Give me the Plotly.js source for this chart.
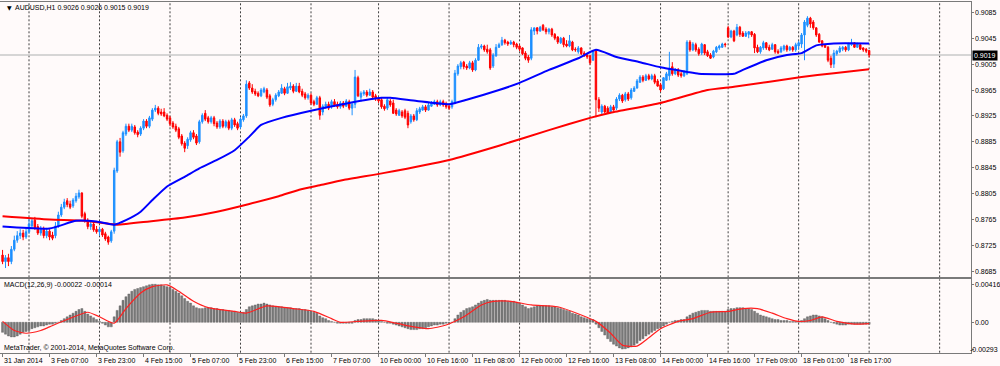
<!DOCTYPE html>
<html><head><meta charset="utf-8">
<script src="https://cdn.plot.ly/plotly-3.0.1.min.js"></script>
<style>html,body{margin:0;padding:0;background:#fffafa;}#chart{width:1000px;height:366px;}</style>
</head><body><div id="chart"></div>
<script>
// ---- AUDUSD H1 candles (bar index 0 = 31 Jan 2014 15:00) ----
const openP = [
0.8710,0.8700,0.8706,0.8700,0.8719,0.8733,0.8740,0.8744,0.8738,0.8746,
0.8755,0.8764,0.8754,0.8744,0.8750,0.8740,0.8747,0.8741,0.8740,0.8755,
0.8772,0.8784,0.8794,0.8789,0.8786,0.8794,0.8800,0.8806,0.8774,0.8764,
0.8754,0.8758,0.8750,0.8746,0.8750,0.8743,0.8738,0.8732,0.8747,0.8840,
0.8885,0.8871,0.8897,0.8909,0.8903,0.8908,0.8900,0.8897,0.8906,0.8917,
0.8909,0.8920,0.8934,0.8937,0.8931,0.8931,0.8926,0.8922,0.8914,0.8909,
0.8905,0.8894,0.8883,0.8879,0.8888,0.8899,0.8894,0.8885,0.8916,0.8929,
0.8922,0.8916,0.8922,0.8914,0.8908,0.8917,0.8909,0.8916,0.8906,0.8919,
0.8913,0.8908,0.8919,0.8925,0.8976,0.8968,0.8963,0.8960,0.8956,0.8962,
0.8965,0.8956,0.8943,0.8950,0.8956,0.8960,0.8967,0.8960,0.8968,0.8971,
0.8963,0.8971,0.8963,0.8959,0.8953,0.8957,0.8947,0.8943,0.8953,0.8931,
0.8939,0.8943,0.8939,0.8947,0.8943,0.8939,0.8945,0.8940,0.8947,0.8937,
0.8943,0.8984,0.8954,0.8959,0.8962,0.8957,0.8962,0.8956,0.8951,0.8950,
0.8940,0.8937,0.8948,0.8945,0.8934,0.8926,0.8931,0.8933,0.8929,0.8916,
0.8925,0.8919,0.8931,0.8934,0.8939,0.8934,0.8940,0.8943,0.8947,0.8942,
0.8947,0.8943,0.8940,0.8939,0.8945,0.8990,0.9001,0.9008,0.9002,0.8999,
0.9007,0.8996,0.9011,0.9031,0.9033,0.9028,0.9027,0.9002,0.9018,0.9031,
0.9035,0.9042,0.9039,0.9036,0.9039,0.9036,0.9033,0.9030,0.9022,0.9016,
0.9014,0.9056,0.9061,0.9056,0.9065,0.9059,0.9055,0.9059,0.9051,0.9047,
0.9038,0.9045,0.9036,0.9033,0.9039,0.9028,0.9024,0.9030,0.9022,0.9019,
0.9018,0.9011,0.9027,0.8950,0.8931,0.8940,0.8937,0.8931,0.8939,0.8937,
0.8951,0.8957,0.8950,0.8959,0.8953,0.8963,0.8968,0.8977,0.8985,0.8980,
0.8987,0.8982,0.8987,0.8979,0.8973,0.8967,0.8980,0.8987,0.9001,0.8990,
0.8996,0.8990,0.8987,0.8990,0.9039,0.9027,0.9035,0.9028,0.9022,0.9035,
0.9024,0.9019,0.9016,0.9024,0.9030,0.9031,0.9036,0.9061,0.9047,0.9056,
0.9050,0.9062,0.9053,0.9048,0.9051,0.9055,0.9051,0.9031,0.9024,0.9030,
0.9038,0.9031,0.9028,0.9035,0.9025,0.9024,0.9028,0.9033,0.9027,0.9031,
0.9027,0.9033,0.9036,0.9050,0.9065,0.9076,0.9070,0.9061,0.9051,0.9041,
0.9035,0.9031,0.9014,0.9005,0.9021,0.9024,0.9028,0.9031,0.9027,0.9035,
0.9038,0.9031,0.9035,0.9030,0.9028,0.9026];
const highP = [
0.8718,0.8710,0.8712,0.8724,0.8740,0.8747,0.8750,0.8749,0.8752,0.8766,
0.8767,0.8769,0.8758,0.8755,0.8754,0.8752,0.8750,0.8746,0.8761,0.8777,
0.8789,0.8797,0.8798,0.8794,0.8798,0.8806,0.8811,0.8807,0.8777,0.8767,
0.8763,0.8761,0.8755,0.8754,0.8752,0.8746,0.8740,0.8749,0.8845,0.8888,
0.8891,0.8902,0.8913,0.8913,0.8913,0.8911,0.8903,0.8909,0.8920,0.8920,
0.8925,0.8937,0.8942,0.8940,0.8936,0.8937,0.8929,0.8925,0.8917,0.8913,
0.8908,0.8897,0.8886,0.8892,0.8902,0.8903,0.8897,0.8919,0.8929,0.8934,
0.8925,0.8925,0.8925,0.8917,0.8920,0.8920,0.8919,0.8919,0.8922,0.8922,
0.8916,0.8923,0.8928,0.8980,0.8979,0.8974,0.8967,0.8963,0.8968,0.8970,
0.8968,0.8959,0.8953,0.8960,0.8965,0.8974,0.8970,0.8976,0.8977,0.8974,
0.8976,0.8976,0.8967,0.8962,0.8960,0.8960,0.8950,0.8956,0.8956,0.8943,
0.8947,0.8947,0.8950,0.8951,0.8947,0.8948,0.8948,0.8951,0.8950,0.8947,
0.8996,0.8987,0.8963,0.8965,0.8965,0.8967,0.8965,0.8959,0.8954,0.8953,
0.8943,0.8954,0.8951,0.8950,0.8937,0.8936,0.8934,0.8936,0.8933,0.8928,
0.8928,0.8937,0.8939,0.8942,0.8942,0.8945,0.8948,0.8950,0.8950,0.8950,
0.8950,0.8947,0.8943,0.8950,0.8996,0.9005,0.9010,0.9010,0.9005,0.9010,
0.9010,0.9014,0.9036,0.9036,0.9035,0.9035,0.9030,0.9022,0.9036,0.9038,
0.9047,0.9044,0.9041,0.9042,0.9041,0.9038,0.9035,0.9031,0.9025,0.9019,
0.9062,0.9061,0.9062,0.9064,0.9067,0.9062,0.9061,0.9061,0.9053,0.9048,
0.9047,0.9047,0.9042,0.9050,0.9041,0.9031,0.9033,0.9031,0.9025,0.9022,
0.9019,0.9027,0.9028,0.8954,0.8943,0.8942,0.8940,0.8942,0.8942,0.8954,
0.8960,0.8959,0.8962,0.8962,0.8968,0.8971,0.8982,0.8988,0.8988,0.8990,
0.8990,0.8990,0.8990,0.8982,0.8976,0.8985,0.8993,0.9024,0.9008,0.8999,
0.8999,0.8993,0.8996,0.9042,0.9042,0.9039,0.9038,0.9031,0.9038,0.9036,
0.9027,0.9022,0.9027,0.9033,0.9035,0.9038,0.9038,0.9064,0.9058,0.9058,
0.9067,0.9064,0.9056,0.9056,0.9056,0.9056,0.9053,0.9035,0.9033,0.9041,
0.9039,0.9035,0.9038,0.9036,0.9028,0.9033,0.9035,0.9035,0.9033,0.9033,
0.9038,0.9041,0.9053,0.9073,0.9079,0.9078,0.9073,0.9062,0.9053,0.9042,
0.9036,0.9033,0.9018,0.9027,0.9027,0.9033,0.9033,0.9033,0.9038,0.9044,
0.9039,0.9038,0.9036,0.9031,0.9030,0.9026];
const lowP = [
0.8696,0.8690,0.8693,0.8696,0.8716,0.8729,0.8735,0.8733,0.8735,0.8743,
0.8750,0.8749,0.8741,0.8740,0.8736,0.8736,0.8733,0.8733,0.8736,0.8752,
0.8769,0.8781,0.8784,0.8781,0.8783,0.8791,0.8797,0.8767,0.8760,0.8750,
0.8749,0.8746,0.8743,0.8740,0.8738,0.8732,0.8726,0.8729,0.8743,0.8837,
0.8862,0.8868,0.8894,0.8900,0.8900,0.8896,0.8892,0.8894,0.8903,0.8906,
0.8906,0.8917,0.8931,0.8926,0.8925,0.8923,0.8917,0.8909,0.8905,0.8900,
0.8889,0.8879,0.8869,0.8874,0.8885,0.8889,0.8880,0.8882,0.8913,0.8917,
0.8913,0.8913,0.8909,0.8905,0.8905,0.8906,0.8906,0.8903,0.8903,0.8908,
0.8903,0.8905,0.8916,0.8922,0.8965,0.8959,0.8956,0.8954,0.8954,0.8960,
0.8951,0.8939,0.8940,0.8947,0.8954,0.8959,0.8957,0.8959,0.8965,0.8960,
0.8962,0.8960,0.8954,0.8950,0.8950,0.8942,0.8940,0.8942,0.8919,0.8926,
0.8936,0.8934,0.8936,0.8939,0.8936,0.8936,0.8937,0.8939,0.8934,0.8926,
0.8937,0.8954,0.8947,0.8956,0.8954,0.8956,0.8951,0.8948,0.8945,0.8936,
0.8933,0.8934,0.8939,0.8928,0.8925,0.8925,0.8922,0.8920,0.8906,0.8913,
0.8916,0.8917,0.8928,0.8933,0.8931,0.8933,0.8939,0.8942,0.8939,0.8940,
0.8939,0.8936,0.8934,0.8936,0.8943,0.8987,0.8997,0.8997,0.8996,0.8997,
0.8993,0.8994,0.9010,0.9028,0.9024,0.9021,0.8996,0.8999,0.9016,0.9030,
0.9033,0.9035,0.9033,0.9035,0.9031,0.9028,0.9025,0.9019,0.9011,0.9007,
0.9011,0.9050,0.9051,0.9055,0.9056,0.9051,0.9051,0.9047,0.9042,0.9036,
0.9036,0.9031,0.9031,0.9031,0.9025,0.9024,0.9021,0.9019,0.9016,0.9013,
0.9004,0.9010,0.8923,0.8931,0.8926,0.8929,0.8928,0.8929,0.8933,0.8934,
0.8948,0.8945,0.8947,0.8948,0.8950,0.8962,0.8967,0.8976,0.8977,0.8979,
0.8980,0.8980,0.8974,0.8970,0.8962,0.8965,0.8979,0.8980,0.8987,0.8988,
0.8985,0.8984,0.8985,0.8988,0.9024,0.9025,0.9024,0.9018,0.9019,0.9019,
0.9016,0.9013,0.9014,0.9022,0.9027,0.9030,0.9031,0.9045,0.9045,0.9039,
0.9048,0.9047,0.9047,0.9047,0.9045,0.9047,0.9022,0.9022,0.9021,0.9027,
0.9027,0.9025,0.9027,0.9021,0.9021,0.9022,0.9025,0.9024,0.9025,0.9024,
0.9024,0.9027,0.9030,0.9011,0.9062,0.9061,0.9058,0.9047,0.9038,0.9031,
0.9030,0.9008,0.8999,0.8999,0.9018,0.9022,0.9025,0.9024,0.9025,0.9033,
0.9030,0.9030,0.9027,0.9024,0.9022,0.9015];
const closeP = [
0.8700,0.8706,0.8700,0.8719,0.8733,0.8740,0.8744,0.8738,0.8746,0.8758,
0.8763,0.8752,0.8744,0.8750,0.8740,0.8747,0.8738,0.8736,0.8755,0.8772,
0.8784,0.8792,0.8788,0.8784,0.8795,0.8801,0.8806,0.8770,0.8763,0.8754,
0.8758,0.8749,0.8746,0.8750,0.8741,0.8735,0.8730,0.8746,0.8841,0.8885,
0.8869,0.8899,0.8909,0.8903,0.8909,0.8899,0.8896,0.8906,0.8917,0.8909,
0.8922,0.8934,0.8937,0.8929,0.8928,0.8925,0.8920,0.8913,0.8908,0.8903,
0.8892,0.8882,0.8875,0.8889,0.8899,0.8892,0.8883,0.8916,0.8926,0.8920,
0.8916,0.8922,0.8913,0.8908,0.8917,0.8909,0.8916,0.8906,0.8919,0.8911,
0.8906,0.8920,0.8925,0.8974,0.8968,0.8962,0.8959,0.8956,0.8965,0.8967,
0.8954,0.8942,0.8950,0.8957,0.8962,0.8968,0.8960,0.8970,0.8971,0.8963,
0.8971,0.8962,0.8957,0.8953,0.8957,0.8945,0.8943,0.8953,0.8926,0.8940,
0.8943,0.8937,0.8947,0.8942,0.8939,0.8945,0.8940,0.8948,0.8937,0.8943,
0.8985,0.8956,0.8960,0.8962,0.8957,0.8962,0.8954,0.8951,0.8948,0.8939,
0.8936,0.8950,0.8942,0.8929,0.8928,0.8933,0.8925,0.8923,0.8911,0.8925,
0.8919,0.8933,0.8936,0.8939,0.8934,0.8942,0.8945,0.8947,0.8942,0.8947,
0.8942,0.8939,0.8937,0.8947,0.8991,0.9002,0.9007,0.9001,0.8999,0.9007,
0.8996,0.9011,0.9031,0.9033,0.9027,0.9024,0.8999,0.9019,0.9031,0.9035,
0.9042,0.9038,0.9036,0.9039,0.9035,0.9031,0.9028,0.9021,0.9014,0.9011,
0.9058,0.9061,0.9056,0.9062,0.9058,0.9055,0.9059,0.9050,0.9045,0.9039,
0.9045,0.9035,0.9033,0.9041,0.9027,0.9027,0.9030,0.9021,0.9018,0.9016,
0.9007,0.9025,0.8950,0.8937,0.8940,0.8931,0.8929,0.8939,0.8934,0.8951,
0.8957,0.8948,0.8959,0.8951,0.8965,0.8968,0.8979,0.8985,0.8980,0.8987,
0.8982,0.8987,0.8977,0.8971,0.8965,0.8984,0.8990,0.8999,0.8990,0.8996,
0.8988,0.8987,0.8993,0.9039,0.9027,0.9036,0.9027,0.9021,0.9036,0.9022,
0.9018,0.9014,0.9025,0.9031,0.9033,0.9036,0.9035,0.9047,0.9056,0.9041,
0.9062,0.9051,0.9048,0.9053,0.9055,0.9050,0.9030,0.9024,0.9031,0.9038,
0.9030,0.9027,0.9035,0.9024,0.9022,0.9030,0.9033,0.9027,0.9031,0.9027,
0.9035,0.9038,0.9050,0.9070,0.9076,0.9067,0.9061,0.9050,0.9039,0.9033,
0.9031,0.9011,0.9004,0.9022,0.9025,0.9030,0.9031,0.9027,0.9036,0.9038,
0.9031,0.9036,0.9028,0.9027,0.9025,0.9019];

// ---- Moving averages (read at sample bars) ----
const maBlueBars = [0,16,25,32,38,42,47,51,56,62,67,73,79,84,88,95,105,118,129,132,141,152,158,169,176,186,196,202,209,217,224,233,237,249,252,260,267,272,277,283,295];
const maBlue = [0.8754,0.8751,0.8763,0.8762,0.8757,0.8764,0.8777,0.8795,0.8816,0.8831,0.8844,0.8857,0.8872,0.8893,0.8911,0.8922,0.8933,0.8945,0.8953,0.8953,0.8948,0.8943,0.8950,0.8965,0.8976,0.8996,0.9014,0.9027,0.9016,0.9008,0.9000,0.8993,0.8990,0.8990,0.8996,0.9011,0.9019,0.9022,0.9034,0.9037,0.9037];
const maRedBars = [0,16,28,39,50,62,73,84,94,101,108,116,130,152,169,186,200,207,224,240,249,272,283,295];
const maRed = [0.8770,0.8765,0.8763,0.8757,0.8762,0.8768,0.8777,0.8789,0.8801,0.8811,0.8818,0.8826,0.8837,0.8857,0.8879,0.8903,0.8922,0.8930,0.8945,0.8965,0.8970,0.8985,0.8991,0.8997];

// ---- MACD(12,26,9) ----
const macdMain = [
-0.0011,-0.0013,-0.0015,-0.0016,-0.0016,-0.0015,-0.0013,-0.0011,-0.0010,-0.0009,
-0.0007,-0.0006,-0.0005,-0.0004,-0.0004,-0.0003,-0.0002,-0.0002,-0.0001,0.0000,
0.0002,0.0004,0.0006,0.0008,0.0010,0.0012,0.0014,0.0015,0.0012,0.0009,
0.0007,0.0005,0.0003,0.0001,-0.0001,-0.0003,-0.0005,-0.0005,0.0006,0.0013,
0.0018,0.0024,0.0028,0.0031,0.0034,0.0036,0.0037,0.0038,0.0039,0.0040,
0.0041,0.00416,0.00416,0.0041,0.0041,0.0040,0.0039,0.0038,0.0036,0.0034,
0.0032,0.0029,0.0026,0.0023,0.0021,0.0018,0.0016,0.0015,0.0015,0.0016,
0.0016,0.0016,0.0015,0.0015,0.0014,0.0014,0.0013,0.0013,0.0012,0.0012,
0.0011,0.0011,0.0011,0.0014,0.0017,0.0018,0.0019,0.0020,0.0020,0.0021,
0.0020,0.0019,0.0018,0.0017,0.0017,0.0017,0.0016,0.0016,0.0016,0.0015,
0.0015,0.0015,0.0014,0.0014,0.0013,0.0012,0.0011,0.0010,0.0007,0.0005,
0.0004,0.0002,0.0001,0.0000,-0.0001,-0.0001,-0.0001,-0.0001,-0.0001,-0.0001,
0.0002,0.0003,0.0003,0.0004,0.0004,0.0004,0.0004,0.0003,0.0002,0.0001,
0.0000,-0.0001,-0.0001,-0.0002,-0.0003,-0.0004,-0.0005,-0.0006,-0.0007,-0.0008,
-0.0008,-0.0008,-0.0007,-0.0007,-0.0006,-0.0005,-0.0004,-0.0003,-0.0003,-0.0002,
-0.0002,-0.0001,-0.0001,0.0000,0.0004,0.0008,0.0011,0.0013,0.0015,0.0016,
0.0017,0.0019,0.0021,0.0023,0.0024,0.0025,0.0024,0.0024,0.0024,0.0024,
0.0024,0.0024,0.0023,0.0023,0.0023,0.0022,0.0021,0.0019,0.0017,0.0015,
0.0016,0.0017,0.0018,0.0018,0.0018,0.0018,0.0018,0.0017,0.0017,0.0016,
0.0015,0.0014,0.0013,0.0012,0.0010,0.0009,0.0008,0.0006,0.0005,0.0004,
0.0003,0.0003,-0.0002,-0.0006,-0.0010,-0.0014,-0.0018,-0.0021,-0.0024,-0.0026,
-0.0028,-0.00293,-0.0029,-0.0028,-0.0027,-0.0025,-0.0023,-0.0020,-0.0018,-0.0015,
-0.0013,-0.0011,-0.0009,-0.0007,-0.0006,-0.0004,-0.0002,0.0000,0.0001,0.0002,
0.0002,0.0003,0.0003,0.0006,0.0008,0.0010,0.0011,0.0012,0.0013,0.0013,
0.0013,0.0012,0.0012,0.0012,0.0012,0.0012,0.0012,0.0014,0.0015,0.0015,
0.0016,0.0016,0.0016,0.0015,0.0015,0.0014,0.0012,0.0010,0.0008,0.0007,
0.0006,0.0005,0.0004,0.0003,0.0003,0.0002,0.0002,0.0002,0.0001,0.0001,
0.0001,0.0001,0.0002,0.0004,0.0006,0.0007,0.0008,0.0008,0.0007,0.0006,
0.0004,0.0002,0.0000,-0.0001,-0.0002,-0.0003,-0.0003,-0.0003,-0.0002,-0.0002,
-0.0002,-0.0002,-0.0002,-0.0002,-0.0002,-0.00022];
const signalBars = [0,4,8,13,16,22,29,33,38,42,47,51,56,60,65,70,79,83,90,99,106,112,115,121,129,134,140,145,151,157,163,167,173,180,189,197,202,207,211,216,220,224,230,235,241,247,252,257,262,267,271,275,279,284,290,295];
const signalVals = [0.0001,-0.0009,-0.0012,-0.0009,-0.0005,0.0003,0.0011,0.0006,-0.0001,0.0015,0.0032,0.0039,0.0041,0.0034,0.0023,0.0016,0.0012,0.0010,0.0018,0.0015,0.0012,0.0004,0.0000,0.0001,0.0002,-0.0001,-0.0005,-0.0007,-0.0003,0.0006,0.0019,0.0023,0.0023,0.0019,0.0017,0.0008,0.0001,-0.0012,-0.0025,-0.0026,-0.0017,-0.0007,0.0001,0.0004,0.0011,0.0012,0.0015,0.0015,0.0010,0.0004,0.0001,0.0002,0.0006,0.0001,-0.0002,-0.00014];

// ---- axis labels ----
const timeLabelBars = [0,16,32,48,64,80,96,112,128,144,160,176,192,208,224,240,256,272,288];
const timeLabels = ["31 Jan 2014","3 Feb 07:00","3 Feb 23:00","4 Feb 15:00","5 Feb 07:00","5 Feb 23:00","6 Feb 15:00","7 Feb 07:00","10 Feb 00:00","10 Feb 16:00","11 Feb 08:00","12 Feb 00:00","12 Feb 16:00","13 Feb 08:00","14 Feb 00:00","14 Feb 16:00","17 Feb 09:00","18 Feb 01:00","18 Feb 17:00"];
const daySeparatorBars = [9,33,57,81,105,128,152,176,200,224,247,271,295,319];
const priceTicks = [0.9085,0.9045,0.9005,0.8965,0.8925,0.8885,0.8845,0.8805,0.8765,0.8725,0.8685];
const macdTicks = [0.00416,0,-0.00293];
const macdTickText = ["0.00416","0.00","-0.00293"];
const lastPrice = 0.9019;

const idx = closeP.map((_, i) => i);
const FONT = "'Liberation Sans', Arial, sans-serif";
const AX = '#7a7a7a';

const traces = [
  {type:'candlestick', x:idx, open:openP, high:highP, low:lowP, close:closeP,
   xaxis:'x', yaxis:'y', whiskerwidth:0, hoverinfo:'skip',
   increasing:{line:{color:'#1e90ff', width:1}, fillcolor:'#1e90ff'},
   decreasing:{line:{color:'#ff0000', width:1}, fillcolor:'#ff0000'}},
  {type:'scatter', mode:'lines', x:maRedBars, y:maRed, xaxis:'x', yaxis:'y',
   line:{color:'#ff0000', width:2, shape:'spline', smoothing:0.5}, hoverinfo:'skip'},
  {type:'scatter', mode:'lines', x:maBlueBars, y:maBlue, xaxis:'x', yaxis:'y',
   line:{color:'#0000ff', width:2, shape:'spline', smoothing:0.5}, hoverinfo:'skip'},
  {type:'bar', x:idx, y:macdMain, xaxis:'x2', yaxis:'y2',
   marker:{color:'#7a7a7a', line:{color:'#5a5a5a', width:0.4}}, hoverinfo:'skip'},
  {type:'scatter', mode:'lines', x:signalBars, y:signalVals, xaxis:'x2', yaxis:'y2',
   line:{color:'#ff2020', width:1.2, shape:'spline', smoothing:0.6}, hoverinfo:'skip'}
];

const xr = [-0.8715, 329.68];
const shapes = [];
daySeparatorBars.forEach(b => {
  shapes.push({type:'line', xref:'x', yref:'paper', x0:b, x1:b, y0:0.24235, y1:0.99536,
    line:{color:'#404040', width:1, dash:'2px,2px'}, layer:'below'});
  shapes.push({type:'line', xref:'x2', yref:'paper', x0:b, x1:b, y0:0.03634, y1:0.23689,
    line:{color:'#404040', width:1, dash:'2px,2px'}, layer:'below'});
});
shapes.push({type:'line', xref:'paper', yref:'y', x0:0, x1:0.971, y0:lastPrice, y1:lastPrice,
  line:{color:'#c8c8c8', width:1.5}, layer:'below'});

const ann = [];
const tf = {family:FONT, size:7, color:'#000'};
ann.push({xref:'paper', yref:'paper', x:0.0045, y:1-7/366, text:'\u25BC', showarrow:false,
  xanchor:'left', yanchor:'middle', font:{family:"'DejaVu Sans'", size:6, color:'#000'}});
ann.push({xref:'paper', yref:'paper', x:0.013, y:1-7/366, text:'AUDUSD,H1 0.9026 0.9026 0.9015 0.9019',
  showarrow:false, xanchor:'left', yanchor:'middle', font:tf});
ann.push({xref:'paper', yref:'paper', x:0.002, y:1-285/366, text:'MACD(12,26,9) -0.00022 -0.00014',
  showarrow:false, xanchor:'left', yanchor:'middle', font:tf});
ann.push({xref:'paper', yref:'paper', x:0.002, y:1-347.5/366, text:'MetaTrader, \u00A9 2001-2014, MetaQuotes Software Corp.',
  showarrow:false, xanchor:'left', yanchor:'middle', font:tf});
priceTicks.forEach(v => ann.push({xref:'paper', yref:'y', x:0.973, y:v, text:v.toFixed(4),
  showarrow:false, xanchor:'left', yanchor:'middle', font:tf}));
macdTicks.forEach((v, k) => ann.push({xref:'paper', yref:'y2', x:(k === 2 ? 0.9995 : 0.9725), y:v, text:macdTickText[k],
  showarrow:false, xanchor:(k === 2 ? 'right' : 'left'), yanchor:'middle', font:tf}));
ann.push({xref:'paper', yref:'y', x:0.9722, y:lastPrice, text:lastPrice.toFixed(4), showarrow:false,
  xanchor:'left', yanchor:'middle', bgcolor:'#000000', borderpad:1,
  font:{family:FONT, size:7, color:'#ffffff'}});
timeLabelBars.forEach((b, k) => ann.push({xref:'x2', yref:'paper', x:b, y:1-360/366, text:timeLabels[k],
  showarrow:false, xanchor:'left', yanchor:'middle', xshift:-1, font:tf}));

const layout = {
  width:1000, height:366, margin:{l:0, r:0, t:0, b:0, pad:0},
  paper_bgcolor:'#fffafa', plot_bgcolor:'#fffafa', showlegend:false,
  bargap:0.3, font:{family:FONT, size:7, color:'#000'},
  xaxis:{domain:[0,0.971], range:xr, anchor:'y', showgrid:false, zeroline:false,
    showticklabels:false, ticks:'', showline:true, mirror:true, linecolor:AX, linewidth:1,
    rangeslider:{visible:false}, fixedrange:true},
  yaxis:{domain:[0.24235,0.99536], range:[0.86757,0.91014], anchor:'x', side:'right',
    showgrid:false, zeroline:false, showline:true, mirror:true, linecolor:AX, linewidth:1,
    ticks:'outside', ticklen:2, tickcolor:AX, tickvals:priceTicks, showticklabels:false, fixedrange:true},
  xaxis2:{domain:[0,0.971], range:xr, anchor:'y2', showgrid:false, zeroline:false,
    showticklabels:false, ticks:'outside', ticklen:3, tickcolor:AX, tickvals:timeLabelBars,
    showline:true, mirror:true, linecolor:AX, linewidth:1, fixedrange:true},
  yaxis2:{domain:[0.03634,0.23689], range:[-0.003328,0.004707], anchor:'x2', side:'right',
    showgrid:false, zeroline:false, showline:true, mirror:true, linecolor:AX, linewidth:1,
    ticks:'outside', ticklen:2, tickcolor:AX, tickvals:macdTicks, showticklabels:false, fixedrange:true},
  shapes:shapes, annotations:ann
};

Plotly.newPlot('chart', traces, layout, {staticPlot:true, displayModeBar:false});
</script>
</body></html>
